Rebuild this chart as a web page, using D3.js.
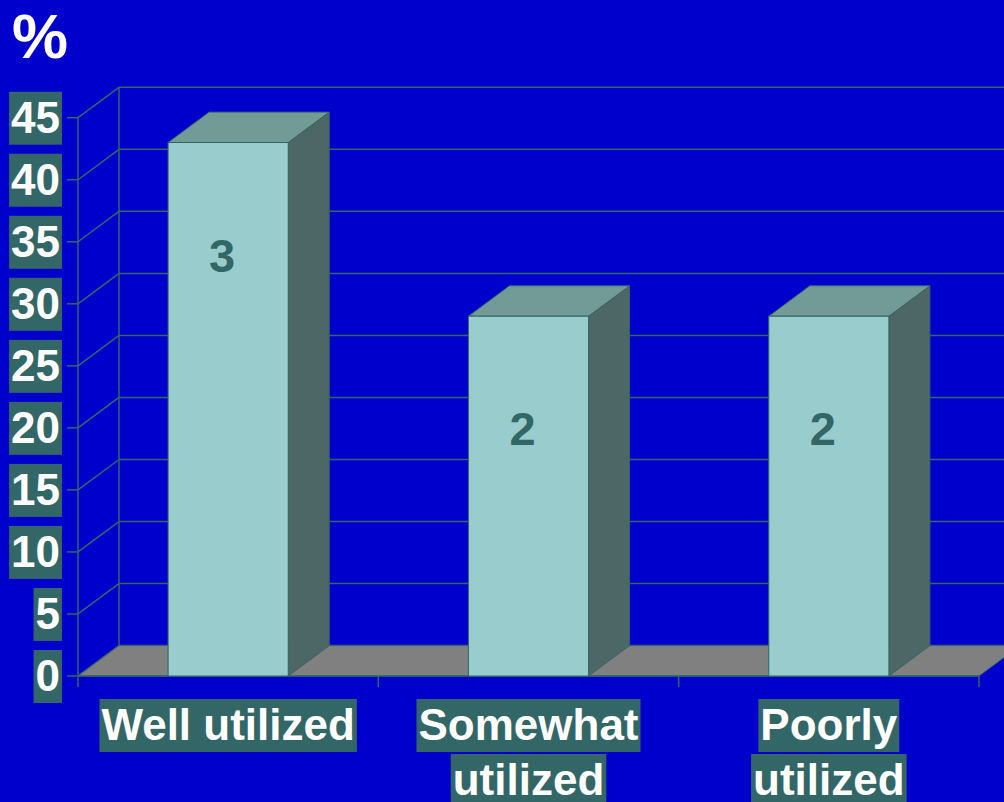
<!DOCTYPE html>
<html>
<head>
<meta charset="utf-8">
<script src="https://cdn.jsdelivr.net/npm/d3@7"></script>
<style>
  html, body { margin: 0; padding: 0; background: #0000CC; }
  svg { display: block; }
  text { font-family: "Liberation Sans", Arial, sans-serif; font-weight: bold; }
</style>
</head>
<body>
<svg id="chart" width="1004" height="802"></svg>
<script>
// Share of responses per category (%), and the respondent counts shown on the bars
const categories = [["Well utilized"], ["Somewhat", "utilized"], ["Poorly", "utilized"]];
const percents = [43, 29, 29];
const counts = [3, 2, 2];
const yTicks = [0, 5, 10, 15, 20, 25, 30, 35, 40, 45];
const unitLabel = "%";

(function draw() {
  const W = 1004, H = 802;
  const svg = d3.select("#chart");

  const colors = {
    bg: "#0000CC",
    grid: "#336666",
    box: "#336666",
    front: "#99CCCC",
    topFace: "#729B98",
    side: "#4D6666",
    floor: "#808080",
    edge: "#336666",
    white: "#FFFFFF"
  };

  // Front plane of the 3D plot and the depth offset of the back wall
  const plotLeft = 78, plotRight = 979, plotBottom = 676, plotTop = 117.7;
  const depth = { dx: 41, dy: -30.4 };

  const keys = categories.map(c => c.join(" "));
  const x = d3.scaleBand().domain(keys).range([plotLeft, plotRight]).paddingInner(0.6).paddingOuter(0.3);
  const y = d3.scaleLinear().domain([0, 45]).range([plotBottom, plotTop]);
  const step = x.step();

  svg.append("rect").attr("width", W).attr("height", H).attr("fill", colors.bg);

  // "%" unit title
  svg.append("text").attr("x", 12).attr("y", 58)
    .attr("fill", colors.white).attr("font-size", 63).text(unitLabel);

  const g = svg.append("g");
  const bx = plotLeft + depth.dx, farX = plotRight + depth.dx;

  // Back wall grid lines and left wall diagonals
  g.selectAll("line.back").data(yTicks).join("line")
    .attr("x1", bx).attr("x2", farX)
    .attr("y1", d => y(d) + depth.dy).attr("y2", d => y(d) + depth.dy)
    .attr("stroke", colors.grid).attr("stroke-width", 1.5);
  g.selectAll("line.side").data(yTicks).join("line")
    .attr("x1", plotLeft).attr("x2", bx)
    .attr("y1", d => y(d)).attr("y2", d => y(d) + depth.dy)
    .attr("stroke", colors.grid).attr("stroke-width", 1.5);
  g.append("line").attr("x1", bx).attr("x2", bx)
    .attr("y1", y(45) + depth.dy).attr("y2", y(0) + depth.dy)
    .attr("stroke", colors.grid).attr("stroke-width", 1.5);

  // Floor
  g.append("polygon")
    .attr("points", [[plotLeft, plotBottom], [plotRight, plotBottom],
      [plotRight + depth.dx, plotBottom + depth.dy], [bx, plotBottom + depth.dy]].join(" "))
    .attr("fill", colors.floor).attr("stroke", colors.edge).attr("stroke-width", 1);

  // Front value axis with ticks
  g.append("line").attr("x1", plotLeft).attr("x2", plotLeft).attr("y1", y(45)).attr("y2", plotBottom + 11)
    .attr("stroke", colors.grid).attr("stroke-width", 1.5);
  g.selectAll("line.ytick").data(yTicks).join("line")
    .attr("x1", plotLeft - 11).attr("x2", plotLeft)
    .attr("y1", d => y(d)).attr("y2", d => y(d))
    .attr("stroke", colors.grid).attr("stroke-width", 1.5);

  // Category axis line and tick marks at slot boundaries
  g.append("line").attr("x1", plotLeft).attr("x2", plotRight).attr("y1", plotBottom).attr("y2", plotBottom)
    .attr("stroke", colors.grid).attr("stroke-width", 1.5);
  const bounds = keys.map(k => x(k) + x.bandwidth() / 2 + step / 2);
  g.selectAll("line.xtick").data(bounds).join("line")
    .attr("x1", d => d).attr("x2", d => d).attr("y1", plotBottom).attr("y2", plotBottom + 11)
    .attr("stroke", colors.grid).attr("stroke-width", 1.5);

  // 3D bars
  const bars = g.selectAll("g.bar").data(keys.map((k, i) => ({ k, v: percents[i], n: counts[i] })))
    .join("g").attr("class", "bar");
  bars.each(function(d) {
    const b = d3.select(this);
    const x0 = x(d.k), x1 = x0 + x.bandwidth();
    const yt = y(d.v), yb = y(0);
    const { dx, dy } = depth;
    b.append("polygon")
      .attr("points", [[x1, yt], [x1 + dx, yt + dy], [x1 + dx, yb + dy], [x1, yb]].join(" "))
      .attr("fill", colors.side).attr("stroke", colors.edge).attr("stroke-width", 1);
    b.append("polygon")
      .attr("points", [[x0, yt], [x0 + dx, yt + dy], [x1 + dx, yt + dy], [x1, yt]].join(" "))
      .attr("fill", colors.topFace).attr("stroke", colors.edge).attr("stroke-width", 1);
    b.append("rect").attr("x", x0).attr("y", yt).attr("width", x1 - x0).attr("height", yb - yt)
      .attr("fill", colors.front).attr("stroke", colors.edge).attr("stroke-width", 1);
    b.append("text")
      .attr("x", (x0 + x1) / 2 - 6).attr("y", yt + 129)
      .attr("text-anchor", "middle").attr("font-size", 47)
      .attr("fill", colors.box).text(d.n);
  });

  // Text with a filled box behind it
  function boxedText(parent, tx, ty, str, anchor) {
    const grp = parent.append("g");
    const rect = grp.append("rect").attr("fill", colors.box);
    const t = grp.append("text").attr("x", tx).attr("y", ty)
      .attr("text-anchor", anchor).attr("font-size", 44)
      .attr("fill", colors.white).text(str);
    const w = t.node().getComputedTextLength();
    const x0 = anchor === "end" ? tx - w : anchor === "middle" ? tx - w / 2 : tx;
    rect.attr("x", x0 - 2).attr("width", w + 4).attr("y", ty - 41).attr("height", 53);
  }

  // Value axis labels
  yTicks.forEach(v => boxedText(svg, 60, y(v) + 15, String(v), "end"));

  // Category labels
  keys.forEach((k, i) => {
    const cx = x(k) + x.bandwidth() / 2;
    categories[i].forEach((line, j) => boxedText(svg, cx, 740 + j * 55, line, "middle"));
  });
})();
</script>
</body>
</html>
